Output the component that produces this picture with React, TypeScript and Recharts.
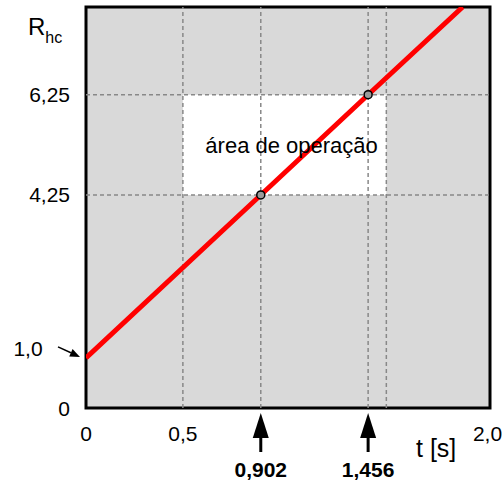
import React from 'react';
import {
  ComposedChart,
  Line,
  XAxis,
  YAxis,
  ReferenceArea,
  ReferenceLine,
  ReferenceDot,
} from 'recharts';

// line R_hc(t)
const tValues = [0, 0.902, 1.456, 1.944];
const rValues = [1.0, 4.25, 6.25, 8.0];

const xTicks = [0, 0.5, 0.902, 1.456, 2.0];
const xTickLabels = ['0', '0,5', '0,902', '1,456', '2,0'];
const yTicks = [0, 1.0, 4.25, 6.25];
const yTickLabels = ['0', '1,0', '4,25', '6,25'];

const markedT = [0.902, 1.456];
const markedR = [4.25, 6.25];
const gridT = [0.5, 0.902, 1.456, 1.55];
const gridR = [4.25, 6.25];
const areaT = [0.5, 1.55];
const areaR = [4.25, 6.25];
const tMax = 2.085;
const rMax = 8;

const data = tValues.map((t, i) => ({ t, r: rValues[i] }));

const FONT = '"Liberation Sans", Arial, sans-serif';

const XTick = (props: any) => {
  const { x, y, payload } = props;
  const v = payload.value;
  const label = xTickLabels[xTicks.indexOf(v)];
  if (markedT.includes(v)) {
    return (
      <g>
        <line x1={x} y1={y + 44} x2={x} y2={y + 26} stroke="#000" strokeWidth={3} />
        <polygon points={`${x},${y + 5} ${x - 8},${y + 30} ${x + 8},${y + 30}`} fill="#000" />
        <text x={x} y={y + 69} textAnchor="middle" fontWeight="bold" fontSize={21} fill="#000" fontFamily={FONT}>
          {label}
        </text>
      </g>
    );
  }
  const dx = v === 2 ? 14 : 0;
  return (
    <text x={x + dx} y={y + 25} textAnchor="middle" dominantBaseline="central" fontSize={21} fill="#000" fontFamily={FONT}>
      {label}
    </text>
  );
};

const YTick = (props: any) => {
  const { x, y, payload } = props;
  const v = payload.value;
  const label = yTickLabels[yTicks.indexOf(v)];
  if (v === 1) {
    // small pointer arrow to the start of the line
    const tipX = x - 6;
    const tipY = y - 1;
    const sx = x - 28;
    const sy = y - 11;
    const len = Math.hypot(tipX - sx, tipY - sy);
    const ux = (tipX - sx) / len;
    const uy = (tipY - sy) / len;
    const bx = tipX - ux * 10;
    const by = tipY - uy * 10;
    const px = -uy * 4;
    const py = ux * 4;
    return (
      <g>
        <text x={x - 58} y={y - 9} textAnchor="middle" dominantBaseline="central" fontSize={21} fill="#000" fontFamily={FONT}>
          {label}
        </text>
        <line x1={sx} y1={sy} x2={bx} y2={by} stroke="#000" strokeWidth={1.5} />
        <polygon points={`${tipX},${tipY} ${bx + px},${by + py} ${bx - px},${by - py}`} fill="#000" />
      </g>
    );
  }
  return (
    <text x={x - 16} y={y} textAnchor="end" dominantBaseline="central" fontSize={21} fill="#000" fontFamily={FONT}>
      {label}
    </text>
  );
};

export default function App() {
  return (
    <div style={{ position: 'absolute', left: 0, top: 0, width: 504, height: 483, background: '#fff' }}>
      <ComposedChart
        width={504}
        height={483}
        data={data}
        margin={{ top: 7, right: 14, left: 0, bottom: 0 }}
        style={{ fontFamily: FONT }}
      >
        <XAxis
          type="number"
          dataKey="t"
          domain={[0, tMax]}
          ticks={xTicks}
          interval={0}
          height={75}
          axisLine={false}
          tickLine={false}
          tickSize={0}
          tickMargin={0}
          tick={<XTick />}
          allowDataOverflow
          label={{
            content: () => (
              <text x={416} y={457} fontSize={25} fill="#000" fontFamily={FONT}>
                t [s]
              </text>
            ),
          }}
        />
        <YAxis
          type="number"
          domain={[0, rMax]}
          ticks={yTicks}
          interval={0}
          width={86}
          axisLine={false}
          tickLine={false}
          tickSize={0}
          tickMargin={0}
          tick={<YTick />}
          allowDataOverflow
          label={{
            content: () => (
              <text x={28} y={35} fontSize={24} fill="#000" fontFamily={FONT}>
                R
                <tspan fontSize={16} dy={8}>
                  hc
                </tspan>
              </text>
            ),
          }}
        />
        <ReferenceArea
          x1={0}
          x2={tMax}
          y1={0}
          y2={rMax}
          fill="#d9d9d9"
          fillOpacity={1}
          stroke="#000"
          strokeWidth={3}
        />
        <ReferenceArea
          x1={areaT[0]}
          x2={areaT[1]}
          y1={areaR[0]}
          y2={areaR[1]}
          fill="#fff"
          fillOpacity={1}
          stroke="none"
          label={{ value: 'área de operação', position: 'center', dx: 7, fontSize: 22, fill: '#000', fontFamily: FONT }}
        />
        {gridT.map((t) => (
          <ReferenceLine key={`vt-${t}`} x={t} stroke="#888" strokeWidth={1.5} strokeDasharray="4 3" />
        ))}
        {gridR.map((r) => (
          <ReferenceLine key={`hr-${r}`} y={r} stroke="#888" strokeWidth={1.5} strokeDasharray="4 3" />
        ))}
        <Line
          type="linear"
          dataKey="r"
          stroke="#ff0000"
          strokeWidth={5}
          dot={false}
          activeDot={false}
          isAnimationActive={false}
        />
        {markedT.map((t, i) => (
          <ReferenceDot key={`dot-${t}`} x={t} y={markedR[i]} r={4} fill="#9a9a9a" stroke="#000" strokeWidth={1.5} />
        ))}
      </ComposedChart>
    </div>
  );
}
